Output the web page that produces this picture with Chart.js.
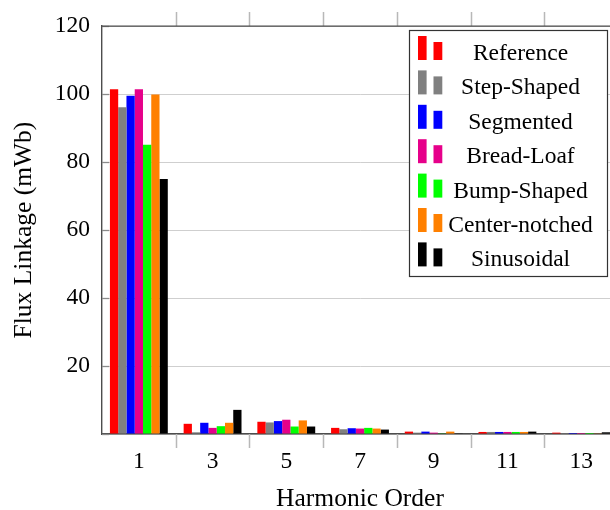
<!DOCTYPE html>
<html>
<head>
<meta charset="utf-8">
<title>Flux Linkage Harmonics</title>
<script src="https://cdn.jsdelivr.net/npm/chart.js@4/dist/chart.umd.min.js"></script>
<style>
    html, body { margin: 0; padding: 0; background: #fff; overflow: hidden; }
    #wrap { width: 630px; height: 510px; }
    canvas { display: block; }
</style>
</head>
<body>
<div id="wrap"><canvas id="fluxChart" width="630" height="510"></canvas></div>
<script>
// Harmonic orders on the x axis
const harmonics = ['1', '3', '5', '7', '9', '11', '13'];

// Flux linkage per harmonic (mWb) for each magnet shape
const reference     = [101.4, 3.0, 3.6, 1.8, 0.7, 0.6, 0.4];
const stepShaped    = [96.1, 0.5, 3.4, 1.4, 0.4, 0.6, 0.3];
const segmented     = [99.5, 3.3, 3.8, 1.7, 0.7, 0.6, 0.3];
const breadLoaf     = [101.4, 1.8, 4.2, 1.6, 0.4, 0.6, 0.3];
const bumpShaped    = [85.1, 2.3, 2.2, 1.8, 0.2, 0.6, 0.3];
const centerNotched = [99.9, 3.3, 4.0, 1.6, 0.7, 0.6, 0.2];
const sinusoidal    = [75.0, 7.1, 2.2, 1.3, 0.2, 0.7, 0.5];

const seriesNames = ['Reference', 'Step-Shaped', 'Segmented', 'Bread-Loaf', 'Bump-Shaped', 'Center-notched', 'Sinusoidal'];
const seriesValues = [reference, stepShaped, segmented, breadLoaf, bumpShaped, centerNotched, sinusoidal];

// y axis ticks
const yTicks = [0, 20, 40, 60, 80, 100, 120];

const colors = {
    red: '#ff0000',
    gray: '#808080',
    blue: '#0000ff',
    magenta: '#e6008a',
    green: '#00ff00',
    orange: '#ff8000',
    black: '#000000'
};
const seriesColors = [colors.red, colors.gray, colors.blue, colors.magenta, colors.green, colors.orange, colors.black];

const serif = "'Liberation Serif', 'Times New Roman', serif";
const axisColor = '#4d4d4d';

// Frame extras: top border, boundary ticks, inward y ticks and the boxed legend
const framePlugin = {
    id: 'frame',
    afterDraw(chart) {
        const { ctx, chartArea } = chart;
        const x = chart.scales.x;
        const y = chart.scales.y;
        ctx.save();

        // ticks between categories, below the axis and above the top edge
        ctx.strokeStyle = '#b8b8b8';
        ctx.lineWidth = 1.5;
        for (let i = 1; i < harmonics.length; i++) {
            const px = Math.round((x.getPixelForValue(i - 1) + x.getPixelForValue(i)) / 2) + 0.5;
            ctx.beginPath();
            ctx.moveTo(px, chartArea.bottom);
            ctx.lineTo(px, chartArea.bottom + 14);
            ctx.moveTo(px, chartArea.top);
            ctx.lineTo(px, chartArea.top - 14);
            ctx.stroke();
        }

        // short inward y ticks
        ctx.strokeStyle = '#8a8a8a';
        ctx.lineWidth = 1.3;
        yTicks.forEach(v => {
            const py = Math.round(y.getPixelForValue(v)) + 0.5;
            ctx.beginPath();
            ctx.moveTo(chartArea.left, py);
            ctx.lineTo(chartArea.left + 7, py);
            ctx.stroke();
        });

        // top edge of the frame
        ctx.strokeStyle = axisColor;
        ctx.lineWidth = 1.4;
        ctx.beginPath();
        ctx.moveTo(chartArea.left, chartArea.top);
        ctx.lineTo(chartArea.right, chartArea.top);
        ctx.stroke();

        // legend
        const box = { left: 409.5, top: 30.5, width: 198, height: 246 };
        ctx.fillStyle = '#ffffff';
        ctx.fillRect(box.left, box.top, box.width, box.height);
        ctx.strokeStyle = '#333333';
        ctx.lineWidth = 1.2;
        ctx.strokeRect(box.left, box.top, box.width, box.height);

        ctx.font = '23.5px ' + serif;
        ctx.textAlign = 'center';
        ctx.textBaseline = 'alphabetic';
        chart.data.datasets.forEach((ds, i) => {
            const base = box.top + 29.5 + i * 34.4;
            ctx.fillStyle = ds.backgroundColor;
            ctx.fillRect(box.left + 8.5, base - 24, 8.6, 24);
            ctx.fillRect(box.left + 24, base - 18, 8.8, 18);
            ctx.fillStyle = '#000';
            ctx.fillText(ds.label, box.left + 111, base);
        });

        ctx.restore();
    }
};

const chart = new Chart(document.getElementById('fluxChart').getContext('2d'), {
    type: 'bar',
    data: {
        labels: harmonics,
        datasets: seriesNames.map((name, i) => ({
            label: name,
            data: seriesValues[i],
            backgroundColor: seriesColors[i],
            borderWidth: 0,
            categoryPercentage: 0.785,
            barPercentage: 1.0
        }))
    },
    options: {
        responsive: false,
        animation: false,
        layout: {
            padding: { top: 22, right: 12, bottom: 0, left: 0 }
        },
        plugins: {
            legend: { display: false },
            tooltip: { enabled: false }
        },
        scales: {
            x: {
                offset: true,
                grid: {
                    display: true,
                    offset: true,
                    drawOnChartArea: false,
                    drawTicks: true,
                    tickLength: 14,
                    color: 'rgba(0,0,0,0)'
                },
                border: { display: true, color: axisColor, width: 1.4 },
                ticks: {
                    color: '#000',
                    padding: 2,
                    font: { family: serif, size: 23.5, lineHeight: 1.0 }
                },
                title: {
                    display: true,
                    text: 'Harmonic Order',
                    color: '#000',
                    padding: { top: 0, bottom: -2 },
                    font: { family: serif, size: 25.5, lineHeight: 1.0 }
                },
                afterFit(scale) {
                    scale.height = 76;
                }
            },
            y: {
                min: 0,
                max: 120,
                afterBuildTicks(scale) {
                    scale.ticks = yTicks.map(v => ({ value: v }));
                },
                grid: {
                    color: '#cfcfcf',
                    lineWidth: 1,
                    drawTicks: false
                },
                border: { display: true, color: axisColor, width: 1.4 },
                ticks: {
                    color: '#000',
                    padding: 12,
                    font: { family: serif, size: 23.5 },
                    callback: v => (v === 0 ? '' : v)
                },
                title: {
                    display: true,
                    text: 'Flux Linkage (mWb)',
                    color: '#000',
                    padding: { top: 8.5, bottom: 0 },
                    font: { family: serif, size: 25.5, lineHeight: 1.2 }
                },
                afterFit(scale) {
                    scale.width = 102;
                }
            }
        }
    },
    plugins: [framePlugin]
});
</script>
</body>
</html>
